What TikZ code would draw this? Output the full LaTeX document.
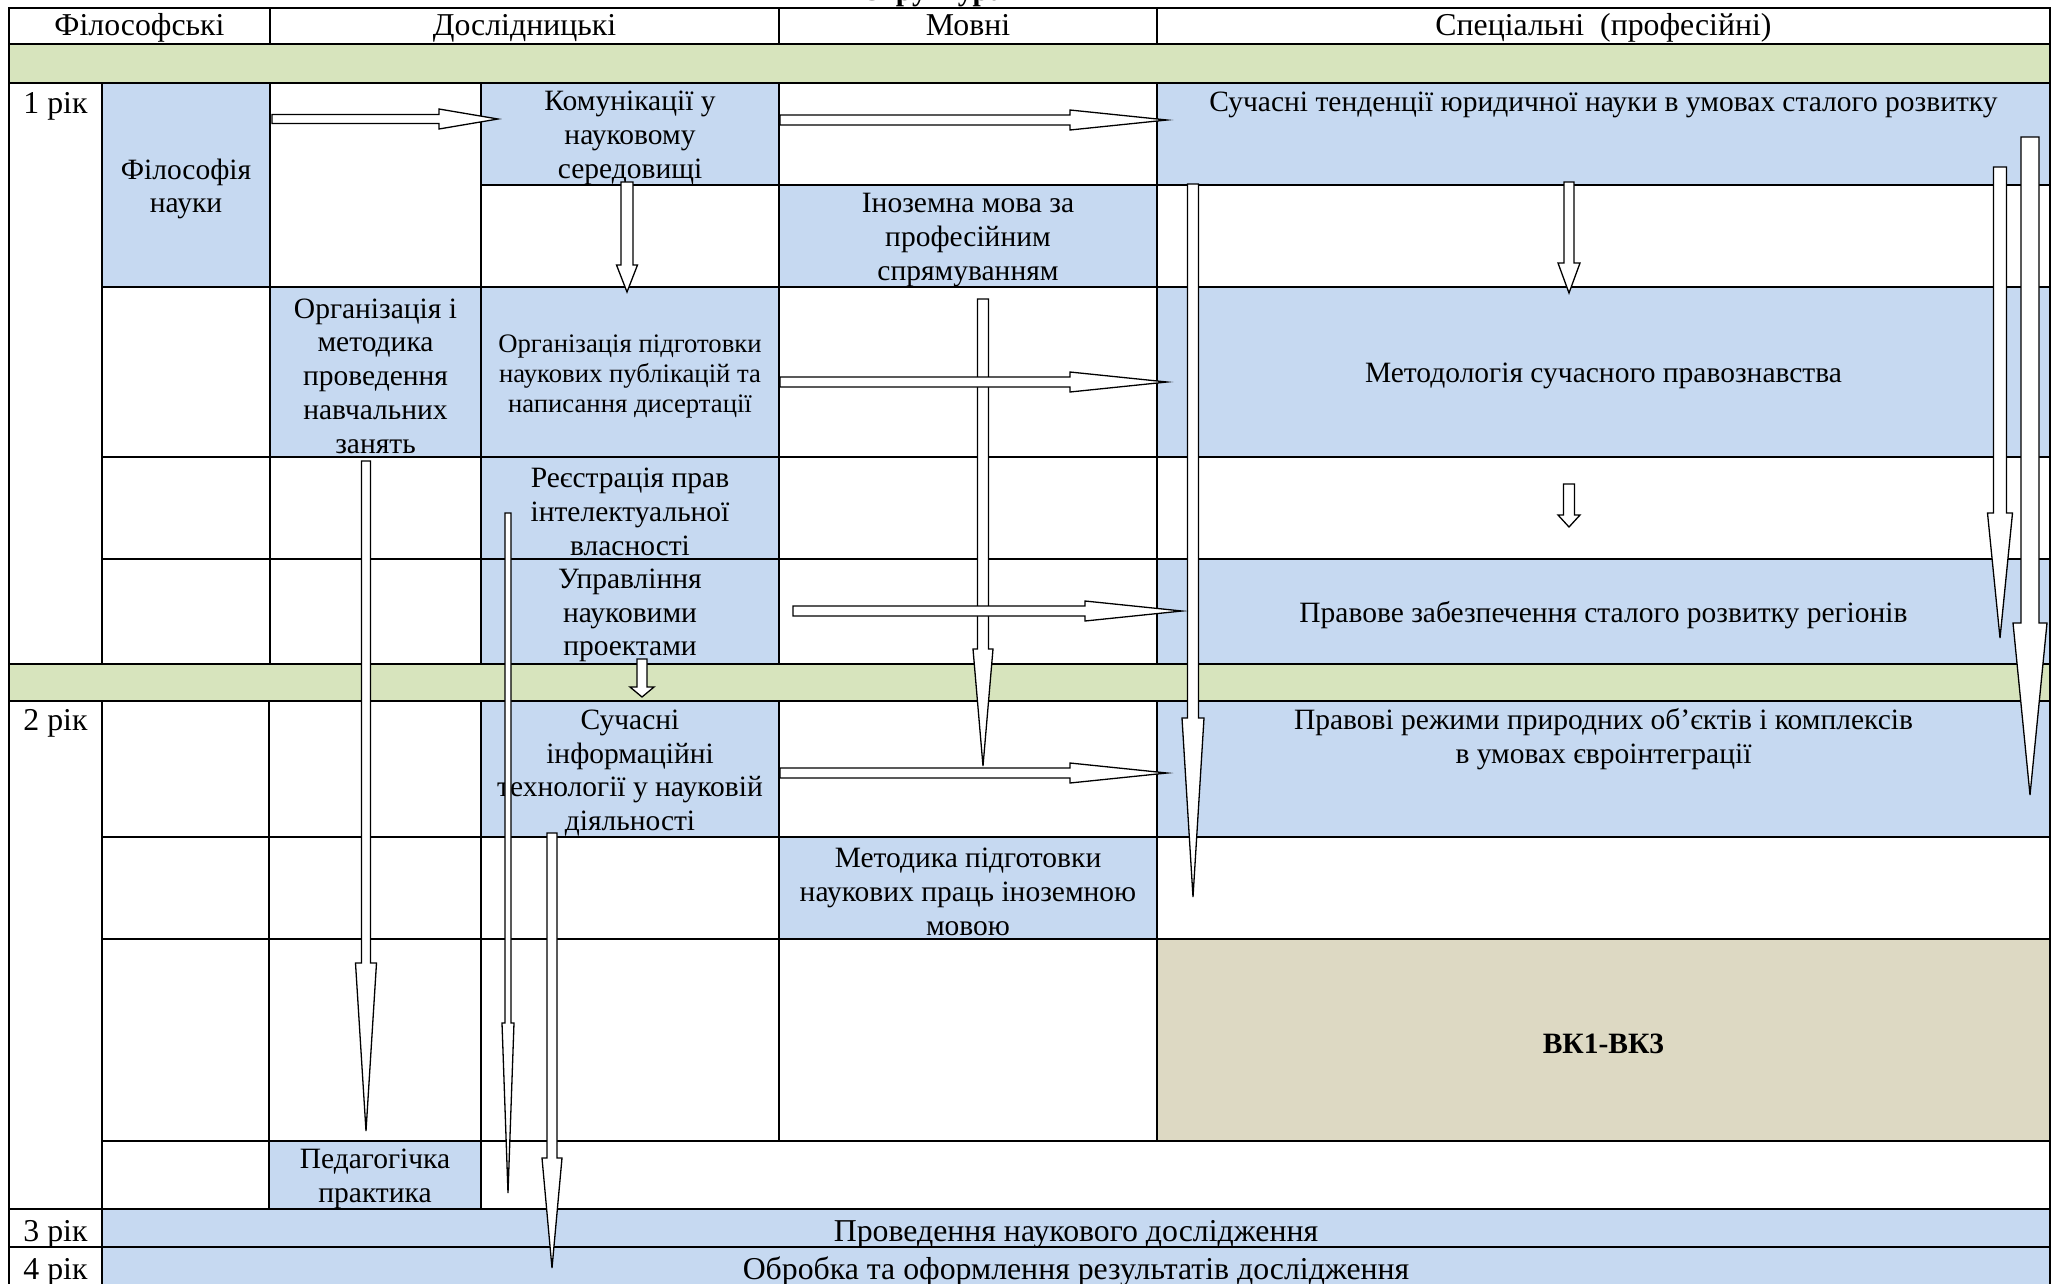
\documentclass[tikz,border=0pt]{standalone}
\usepackage{fontspec}
\setmainfont{Liberation Serif}
\usetikzlibrary{fit,calc}
\definecolor{blu}{HTML}{C6D9F1}
\definecolor{grn}{HTML}{D7E4BD}
\definecolor{tanfill}{HTML}{DDD9C3}
\newcommand{\ecell}[6]{\node[cellbox,fill=#6,fit={(#2,#3) (#4,#5)}] (#1) {};}
\newcommand{\tcell}[8][txt]{\node[cellbox,fill=#7,fit={(#3,#4) (#5,#6)}] (#2) {};
  \node[#1] (#2-t) at (#2.center) {#8};}
\newcommand{\harr}[5]{\draw[barrow] let \p1=(#1), \p2=(#2) in
  (\x1,\y1+#4pt) -- (\x2-#3pt,\y1+#4pt) -- (\x2-#3pt,\y1+#5pt) -- (\x2,\y2)
  -- (\x2-#3pt,\y1-#5pt) -- (\x2-#3pt,\y1-#4pt) -- (\x1,\y1-#4pt) -- cycle;}
\newcommand{\varr}[5]{\draw[barrow] let \p1=(#1), \p2=(#2) in
  (\x1-#4pt,\y1) -- (\x1+#4pt,\y1) -- (\x1+#4pt,\y2+#3pt) -- (\x1+#5pt,\y2+#3pt)
  -- (\x2,\y2) -- (\x1-#5pt,\y2+#3pt) -- (\x1-#4pt,\y2+#3pt) -- cycle;}
\begin{document}
\begin{tikzpicture}[x=1pt,y=-1pt,
  cellbox/.style={draw=black,line width=2pt,inner sep=0pt,outer sep=0pt},
  txt/.style={inner sep=0pt,align=center,yshift=-4pt,font=\fontsize{29.5}{33.7}\selectfont},
  smalltxt/.style={txt,font=\fontsize{26.7}{30}\selectfont},
  boldtxt/.style={txt,font=\fontsize{29.5}{33.7}\selectfont\bfseries},
  lbl/.style={inner sep=0pt,anchor=base,font=\fontsize{29.5}{33.7}\selectfont},
  biglbl/.style={lbl,font=\fontsize{31.8}{36}\selectfont},
  barrow/.style={draw=black,fill=white,line width=1.3pt,line join=miter}]
\useasboundingbox (0,0) rectangle (2054,1283);
% partially visible title
\node[inner sep=0pt,anchor=base,font=\fontsize{29.5}{33.7}\selectfont\bfseries] (ttl) at (932,0) {Структура};
% header
\ecell{h1}{9}{8}{270}{44}{white}
\ecell{h2}{270}{8}{779}{44}{white}
\ecell{h3}{779}{8}{1157}{44}{white}
\ecell{h4}{1157}{8}{2050}{44}{white}
\node[biglbl] (h1-t) at (139.5,35) {Філософські};
\node[biglbl] (h2-t) at (524.5,35) {Дослідницькі};
\node[biglbl] (h3-t) at (968,35) {Мовні};
\node[biglbl] (h4-t) at (1603.5,35) {Спеціальні~ (професійні)};
\ecell{g1}{9}{44}{2050}{83}{grn}
% year 1
\ecell{y1}{9}{83}{102}{664}{white}
\node[biglbl] (y1-t) at (55.5,113) {1 рік};
\tcell{c2ab}{102}{83}{270}{287}{blu}{Філософія\\науки}
\ecell{c3ab}{270}{83}{481}{287}{white}
\tcell{c4a}{481}{83}{779}{185}{blu}{Комунікації у\\науковому\\середовищі}
\ecell{c5a}{779}{83}{1157}{185}{white}
\ecell{c6a}{1157}{83}{2050}{185}{blu}
\node[lbl] (c6a-t) at (1603.5,111) {Сучасні тенденції юридичної науки в умовах сталого розвитку};
\ecell{c4b}{481}{185}{779}{287}{white}
\tcell{c5b}{779}{185}{1157}{287}{blu}{Іноземна мова за\\професійним\\спрямуванням}
\ecell{c6b}{1157}{185}{2050}{287}{white}
\ecell{c2c}{102}{287}{270}{457}{white}
\tcell{c3c}{270}{287}{481}{457}{blu}{Організація і\\методика\\проведення\\навчальних\\занять}
\tcell[smalltxt]{c4c}{481}{287}{779}{457}{blu}{Організація підготовки\\наукових публікацій та\\написання дисертації}
\ecell{c5c}{779}{287}{1157}{457}{white}
\tcell{c6c}{1157}{287}{2050}{457}{blu}{Методологія сучасного правознавства}
\ecell{c2d}{102}{457}{270}{559}{white}
\ecell{c3d}{270}{457}{481}{559}{white}
\tcell{c4d}{481}{457}{779}{559}{blu}{Реєстрація прав\\інтелектуальної\\власності}
\ecell{c5d}{779}{457}{1157}{559}{white}
\ecell{c6d}{1157}{457}{2050}{559}{white}
\ecell{c2e}{102}{559}{270}{664}{white}
\ecell{c3e}{270}{559}{481}{664}{white}
\tcell{c4e}{481}{559}{779}{664}{blu}{Управління\\науковими\\проектами}
\ecell{c5e}{779}{559}{1157}{664}{white}
\tcell{c6e}{1157}{559}{2050}{664}{blu}{Правове забезпечення сталого розвитку регіонів}
\ecell{g2}{9}{664}{2050}{701}{grn}
% year 2
\ecell{y2}{9}{701}{102}{1209}{white}
\node[biglbl] (y2-t) at (55.5,730) {2 рік};
\ecell{c2f}{102}{701}{269}{837}{white}
\ecell{c3f}{269}{701}{481}{837}{white}
\tcell{c4f}{481}{701}{779}{837}{blu}{Сучасні\\інформаційні\\технології у науковій\\діяльності}
\ecell{c5f}{779}{701}{1157}{837}{white}
\ecell{c6f}{1157}{701}{2050}{837}{blu}
\node[lbl] (c6f-t1) at (1603.5,729) {Правові режими природних об’єктів і комплексів};
\node[lbl] (c6f-t2) at (1603.5,763) {в умовах євроінтеграції};
\ecell{c2g}{102}{837}{269}{939}{white}
\ecell{c3g}{269}{837}{481}{939}{white}
\ecell{c4g}{481}{837}{779}{939}{white}
\tcell{c5g}{779}{837}{1157}{939}{blu}{Методика підготовки\\наукових праць іноземною\\мовою}
\ecell{c6g}{1157}{837}{2050}{939}{white}
\ecell{c2h}{102}{939}{269}{1141}{white}
\ecell{c3h}{269}{939}{481}{1141}{white}
\ecell{c4h}{481}{939}{779}{1141}{white}
\ecell{c5h}{779}{939}{1157}{1141}{white}
\tcell[boldtxt]{c6h}{1157}{939}{2050}{1141}{tanfill}{ВК1-ВК3}
\ecell{c2i}{102}{1141}{269}{1209}{white}
\tcell{c3i}{269}{1141}{481}{1209}{blu}{Педагогічка\\практика}
\ecell{c4i}{481}{1141}{2050}{1209}{white}
% years 3, 4
\ecell{y3}{9}{1209}{102}{1247}{white}
\node[biglbl] (y3-t) at (55.5,1241) {3 рік};
\ecell{r3}{102}{1209}{2050}{1247}{blu}
\node[biglbl] (r3-t) at (1076,1241) {Проведення наукового дослідження};
\ecell{y4}{9}{1247}{102}{1292}{white}
\node[biglbl] (y4-t) at (55.5,1279) {4 рік};
\ecell{r4}{102}{1247}{2050}{1292}{blu}
\node[biglbl] (r4-t) at (1076,1279) {Обробка та оформлення результатів дослідження};
% arrow end points
\coordinate (v1s) at (627,182);  \coordinate (v1t) at (627,292);
\coordinate (v2s) at (1569,182); \coordinate (v2t) at (1569,293);
\coordinate (v3s) at (1569,484); \coordinate (v3t) at (1569,527);
\coordinate (v4s) at (983,299);  \coordinate (v4t) at (983,766);
\coordinate (v5s) at (1193,184); \coordinate (v5t) at (1193,897);
\coordinate (v6s) at (2000,167); \coordinate (v6t) at (2000,638);
\coordinate (v7s) at (2030,137); \coordinate (v7t) at (2030,795);
\coordinate (v8s) at (366,461);  \coordinate (v8t) at (366,1131);
\coordinate (v9s) at (508,513);  \coordinate (v9t) at (508,1193);
\coordinate (v10s) at (552,833); \coordinate (v10t) at (552,1268);
\coordinate (v11s) at (642,659); \coordinate (v11t) at (642,697);
\coordinate (h1s) at (272,119);  \coordinate (h1t) at (498,119);
\coordinate (h2s) at (780,120);  \coordinate (h2t) at (1167,120);
\coordinate (h3s) at (780,382);  \coordinate (h3t) at (1167,382);
\coordinate (h4s) at (793,611);  \coordinate (h4t) at (1182,611);
\coordinate (h5s) at (780,773);  \coordinate (h5t) at (1167,773);
% vertical arrows
\varr{v1s}{v1t}{27}{6}{10.5}
\varr{v2s}{v2t}{30}{5}{11}
\varr{v3s}{v3t}{12}{5.5}{11}
\varr{v4s}{v4t}{117}{5.5}{10}
\varr{v5s}{v5t}{179}{5.5}{11}
\varr{v6s}{v6t}{125}{6.5}{12.5}
\varr{v7s}{v7t}{172}{9}{17}
\varr{v8s}{v8t}{168}{4.5}{10.5}
\varr{v9s}{v9t}{170}{3}{6}
\varr{v10s}{v10t}{110}{5}{10}
\varr{v11s}{v11t}{10}{5}{12}
% horizontal arrows
\harr{h1s}{h1t}{59}{4.5}{10}
\harr{h2s}{h2t}{97}{5}{10}
\harr{h3s}{h3t}{97}{5}{10}
\harr{h4s}{h4t}{97}{5}{10}
\harr{h5s}{h5t}{97}{5}{10}
\end{tikzpicture}
\end{document}
